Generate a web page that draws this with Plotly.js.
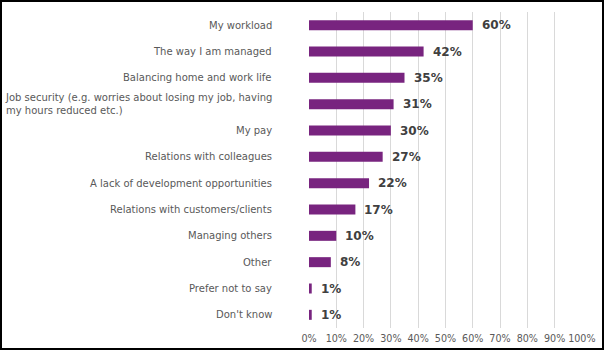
<!DOCTYPE html>
<html>
<head>
<meta charset="utf-8">
<script src="https://cdn.plot.ly/plotly-3.0.1.min.js"></script>
<style>
  html, body { margin: 0; padding: 0; background: #fff; }
  #wrap { width: 600px; height: 346px; border: 2px solid #000; }
  #chart { width: 600px; height: 346px; }
</style>
</head>
<body>
<div id="wrap"><div id="chart"></div></div>
<script>
const categories = [
  "My workload",
  "The way I am managed",
  "Balancing home and work life",
  "Job security (e.g. worries about losing my job, having<br>my hours reduced etc.)",
  "My pay",
  "Relations with colleagues",
  "A lack of development opportunities",
  "Relations with customers/clients",
  "Managing others",
  "Other",
  "Prefer not to say",
  "Don't know"
];
const values = [60, 42, 35, 31, 30, 27, 22, 17, 10, 8, 1, 1];
const tickValues = [0, 10, 20, 30, 40, 50, 60, 70, 80, 90, 100];
const tickLabels = tickValues.map(v => v + "%");

const FONT = "DejaVu Sans, Verdana, sans-serif";

const trace = {
  type: "bar",
  orientation: "h",
  x: values,
  y: categories,
  marker: { color: "#78247F" },
  width: 0.38,
  hoverinfo: "none"
};

const annotations = [];
categories.forEach((c, i) => {
  annotations.push({
    xref: "paper", yref: "y", x: 0, y: c,
    xanchor: "right", yanchor: "middle", xshift: -35,
    text: c, align: "left", showarrow: false,
    font: { family: FONT, size: 10, color: "#595959" }
  });
  annotations.push({
    xref: "x", yref: "y", x: values[i], y: c,
    xanchor: "left", yanchor: "middle", xshift: 7,
    text: "<b>" + values[i] + "%</b>", showarrow: false,
    font: { family: FONT, size: 12, color: "#404040" }
  });
});

const layout = {
  width: 600, height: 346,
  margin: { l: 307, r: 20, t: 10, b: 20, pad: 0 },
  paper_bgcolor: "#fff", plot_bgcolor: "#fff",
  showlegend: false,
  font: { family: FONT, size: 10, color: "#595959" },
  xaxis: {
    range: [0, 100.05], tickvals: tickValues, ticktext: tickLabels,
    tickangle: 0, automargin: false, ticklabelstandoff: 3,
    showgrid: true, gridcolor: "#d9d9d9", gridwidth: 1,
    zeroline: false, showline: false, ticks: "",
    tickfont: { family: FONT, size: 9.6, color: "#595959" },
    fixedrange: true
  },
  yaxis: {
    type: "category", categoryorder: "array", categoryarray: categories,
    autorange: "reversed", showticklabels: false, showgrid: false,
    zeroline: false, showline: false, ticks: "", fixedrange: true
  },
  annotations: annotations
};

Plotly.newPlot("chart", [trace], layout, { displayModeBar: false, staticPlot: true });
</script>
</body>
</html>
